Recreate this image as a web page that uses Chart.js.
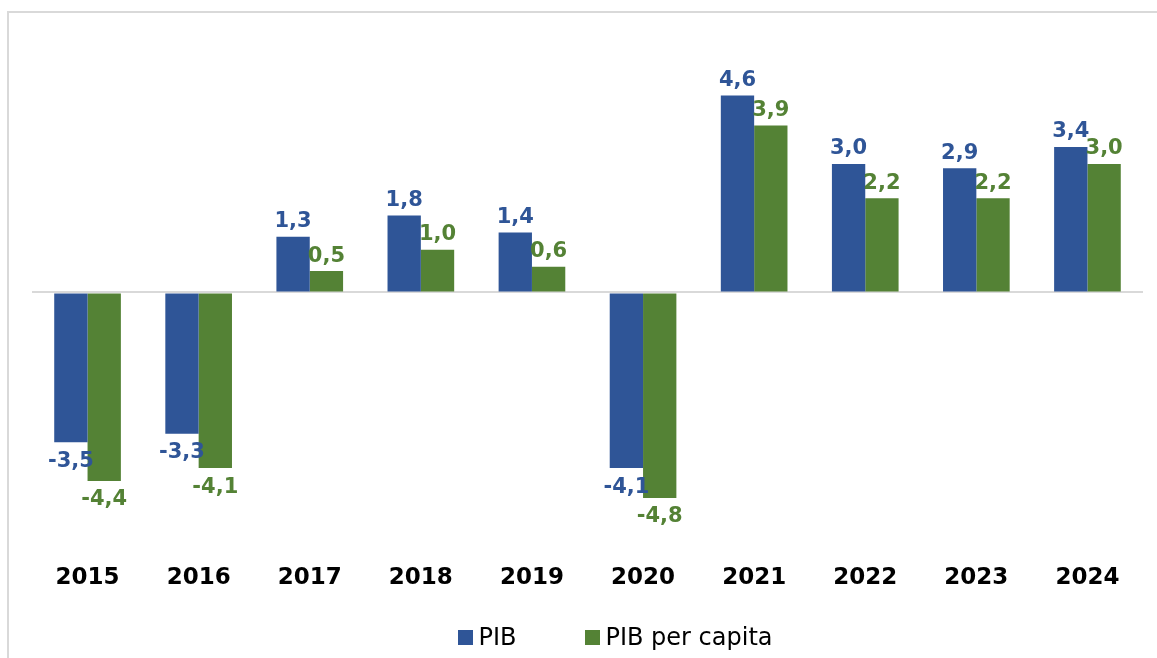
<!DOCTYPE html>
<html>
<head>
<meta charset="utf-8">
<script src="https://cdn.jsdelivr.net/npm/chart.js@4.4.1/dist/chart.umd.min.js"></script>
<style>
  html, body { margin: 0; padding: 0; background: #fff; overflow: hidden; }
  #wrap { position: relative; width: 1157px; height: 658px; overflow: hidden; }
  #lineTop { position: absolute; left: 7px; top: 11px; width: 1300px; height: 2px; background: #d9d9d9; }
  #lineLeft { position: absolute; left: 7px; top: 11px; width: 2px; height: 700px; background: #d9d9d9; }
  #box { position: absolute; left: 0; top: 0; width: 1157px; height: 658px; }
  #legend { position: absolute; left: 37px; width: 1157px; top: 622px; height: 30px;
            display: flex; justify-content: center; align-items: center;
            font-family: "DejaVu Sans", Verdana, sans-serif; font-size: 24px; color: #000; }
  .item { display: flex; align-items: center; }
  .item + .item { margin-left: 69px; }
  .sw { width: 15px; height: 15px; margin-right: 5px; }
</style>
</head>
<body>
<div id="wrap">
  <div id="lineTop"></div>
  <div id="lineLeft"></div>
  <div id="box"><canvas id="pibChart"></canvas></div>
  <div id="legend"></div>
</div>
<script>
var anos = ['2015', '2016', '2017', '2018', '2019', '2020', '2021', '2022', '2023', '2024'];
var pib = [-3.5, -3.3, 1.3, 1.8, 1.4, -4.1, 4.6, 3.0, 2.9, 3.4];
var pibPerCapita = [-4.4, -4.1, 0.5, 1.0, 0.6, -4.8, 3.9, 2.2, 2.2, 3.0];

var azul = '#2f5597';
var verde = '#548235';

// etiquetas de valor em cima/baixo das barras
var rotulos = {
  id: 'rotulos',
  afterDatasetsDraw: function(chart) {
    var ctx = chart.ctx;
    ctx.save();
    ctx.font = 'bold 21px "DejaVu Sans", Verdana, sans-serif';
    ctx.textAlign = 'center';
    ctx.textBaseline = 'middle';
    chart.data.datasets.forEach(function(ds, i) {
      var meta = chart.getDatasetMeta(i);
      ctx.fillStyle = ds.backgroundColor;
      meta.data.forEach(function(bar, j) {
        var v = ds.data[j];
        var txt = v.toFixed(1).replace('.', ',');
        var y = v >= 0 ? bar.y - 15 : bar.y + 19;
        ctx.fillText(txt, bar.x, y);
      });
    });
    ctx.restore();
  }
};

var pibchart = document.getElementById('pibChart');

let pibChart = new Chart(pibchart, {
    type: 'bar',
    data: {
        labels: anos,
        datasets: [
            {
                label: 'PIB',
                backgroundColor: azul,
                data: pib,
            },
            {
                label: 'PIB per capita',
                backgroundColor: verde,
                data: pibPerCapita,
            }
        ]
    },
    options: {
        responsive: true,
        maintainAspectRatio: false,
        animation: false,
        layout: { padding: { left: 32, right: 14, top: 57, bottom: 59 } },
        datasets: { bar: { categoryPercentage: 0.6, barPercentage: 1.0 } },
        plugins: {
            legend: { display: false },
            tooltip: { enabled: false }
        },
        scales: {
            x: {
                grid: { display: false },
                border: { display: false },
                ticks: {
                    color: '#000',
                    padding: 7,
                    font: { family: '"DejaVu Sans", Verdana, sans-serif', size: 23, weight: 'bold' }
                }
            },
            y: {
                min: -6,
                max: 5.5,
                border: { display: false },
                ticks: { display: false, stepSize: 0.5 },
                grid: {
                    drawTicks: false,
                    lineWidth: 2,
                    color: function(c) { return c.tick && c.tick.value === 0 ? '#d9d9d9' : 'rgba(0,0,0,0)'; }
                }
            }
        }
    },
    plugins: [rotulos]
});

// legenda em html
var legenda = document.getElementById('legend');
pibChart.data.datasets.forEach(function(ds) {
    var item = document.createElement('div');
    item.className = 'item';
    item.innerHTML = '<div class="sw" style="background:' + ds.backgroundColor + '"></div><span>' + ds.label + '</span>';
    legenda.appendChild(item);
});
</script>
</body>
</html>
